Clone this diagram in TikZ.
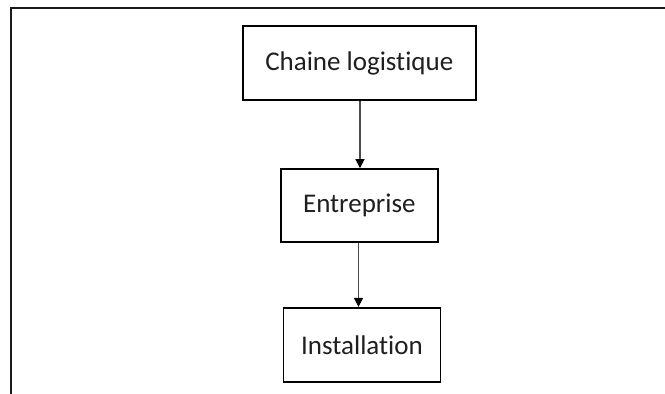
\documentclass[tikz,border=0pt]{standalone}
\usepackage{fontspec}
\setmainfont{Carlito}[Ligatures=NoCommon]
\usetikzlibrary{arrows.meta}
\begin{document}
\begin{tikzpicture}[x=1pt,y=-1pt,
  box/.style={draw=black, line width=1.8pt, minimum height=74pt, inner sep=0pt,
    font=\fontsize{27}{32}\selectfont, text=black!88},
  conn/.style={draw=black!70, line width=1.1pt, -{Triangle[length=9pt,width=9pt,color=black]}},
  frameline/.style={draw=black!90, line width=2.2pt}]
\useasboundingbox (0,0) rectangle (665,394);
\draw[frameline] (11,394) -- (11,8) -- (665,8);
\node[box, minimum width=233pt] (b1) at (359.3,63) {Chaine logistique};
\node[box, minimum width=157pt, minimum height=73pt] (b2) at (359.3,205.5) {Entreprise};
\node[box, minimum width=157pt] (b3) at (362,344.8) {Installation};
\draw[conn] ([xshift=0.7pt]b1.south) -- ([xshift=0.7pt]b2.north);
\draw[conn] ([xshift=-0.8pt]b2.south) -- ([xshift=-0.8pt]b2.south |- b3.north);
\end{tikzpicture}
\end{document}
